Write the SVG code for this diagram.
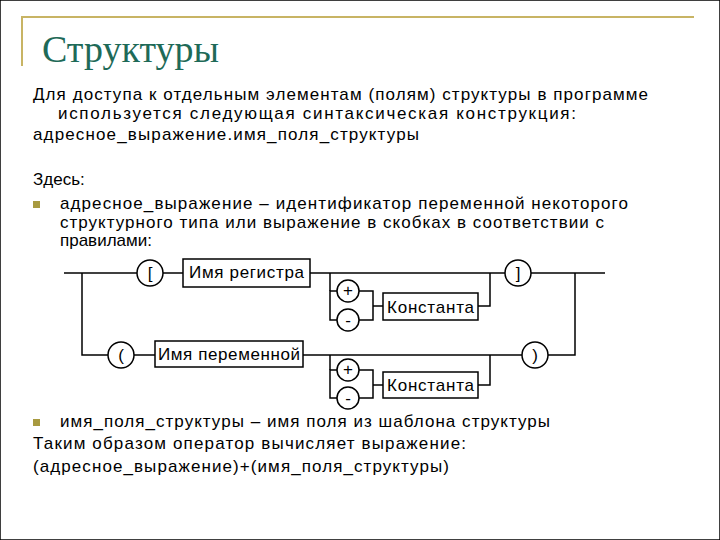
<svg xmlns="http://www.w3.org/2000/svg" width="720" height="540" viewBox="0 0 720 540">
<style>
text{font-family:"Liberation Sans",Arial,sans-serif;font-size:17px;fill:#000}
.t{font-family:"Liberation Serif","Times New Roman",serif;font-size:38px;fill:#1e6a58}
.d{font-size:17px}
.c{font-size:17px;text-anchor:middle}
line,polyline{stroke:#000;stroke-width:1.5;fill:none}
rect,circle{stroke:#000;stroke-width:1.5;fill:#fff}
.b{fill:#a89a40;stroke:none}
.f{stroke:#c8b464;stroke-width:2}
</style>
<rect width="720" height="540" fill="#fff" stroke="none"/>
<line class="f" x1="22" y1="17" x2="694" y2="17"/>
<line class="f" x1="22" y1="16" x2="22" y2="66"/>
<text class="t" x="42" y="62">Структуры</text>
<text x="33" y="100" textLength="615">Для доступа к отдельным элементам (полям) структуры в программе</text>
<text x="58" y="119" textLength="518">используется следующая синтаксическая конструкция:</text>
<text x="33" y="140" textLength="386">адресное_выражение.имя_поля_структуры</text>
<text x="33" y="185">Здесь:</text>
<rect class="b" x="33" y="201" width="7" height="7"/>
<text x="60" y="209" textLength="568">адресное_выражение – идентификатор переменной некоторого</text>
<text x="60" y="228" textLength="544">структурного типа или выражение в скобках в соответствии с</text>
<text x="60" y="246">правилами:</text>
<g id="connectors">
<line x1="64" y1="273" x2="137" y2="273"/>
<line x1="163" y1="273" x2="183" y2="273"/>
<line x1="310" y1="273" x2="505" y2="273"/>
<line x1="531" y1="273" x2="605" y2="273"/>
<polyline points="82,273 82,355 108,355"/>
<line x1="134" y1="355" x2="155" y2="355"/>
<line x1="303" y1="355" x2="522" y2="355"/>
<polyline points="548,355 575,355 575,273"/>
<polyline points="337,291 330,291 330,320 337,320"/>
<polyline points="359,291 373,291 373,320 359,320"/>
<line x1="373" y1="306" x2="383" y2="306"/>
<polyline points="330,273 330,291"/>
<polyline points="478,306 490,306 490,273"/>
<polyline points="337,370 330,370 330,398 337,398"/>
<polyline points="359,370 373,370 373,398 359,398"/>
<line x1="373" y1="385" x2="383" y2="385"/>
<polyline points="330,355 330,370"/>
<polyline points="478,385 490,385 490,355"/>
</g>
<g id="lbr"><circle cx="150" cy="273" r="13"/><text class="c" x="150" y="279">[</text></g>
<g id="reg"><rect x="183" y="259" width="127" height="28"/><text class="d" x="189" y="278" textLength="115">Имя регистра</text></g>
<g id="rbr"><circle cx="518" cy="273" r="13"/><text class="c" x="518" y="279">]</text></g>
<g id="plus1"><circle cx="348" cy="291" r="11"/><text class="c" x="348" y="296">+</text></g>
<g id="minus1"><circle cx="348" cy="320" r="11"/><text class="c" x="348" y="326">-</text></g>
<g id="const1"><rect x="383" y="293" width="95" height="27"/><text class="d" x="387" y="313" textLength="87">Константа</text></g>
<g id="lpar"><circle cx="121" cy="355" r="13"/><text class="c" x="121" y="361">(</text></g>
<g id="var"><rect x="155" y="341" width="148" height="26"/><text class="d" x="158" y="360" textLength="142">Имя переменной</text></g>
<g id="rpar"><circle cx="535" cy="355" r="13"/><text class="c" x="535" y="361">)</text></g>
<g id="plus2"><circle cx="348" cy="370" r="11"/><text class="c" x="348" y="375">+</text></g>
<g id="minus2"><circle cx="348" cy="398" r="11"/><text class="c" x="348" y="404">-</text></g>
<g id="const2"><rect x="383" y="372" width="95" height="26"/><text class="d" x="387" y="391" textLength="87">Константа</text></g>
<rect class="b" x="33" y="419" width="7" height="7"/>
<text x="60" y="427" textLength="490">имя_поля_структуры – имя поля из шаблона структуры</text>
<text x="33" y="449" textLength="433">Таким образом оператор вычисляет выражение:</text>
<text x="33" y="472" textLength="416">(адресное_выражение)+(имя_поля_структуры)</text>
</svg>
